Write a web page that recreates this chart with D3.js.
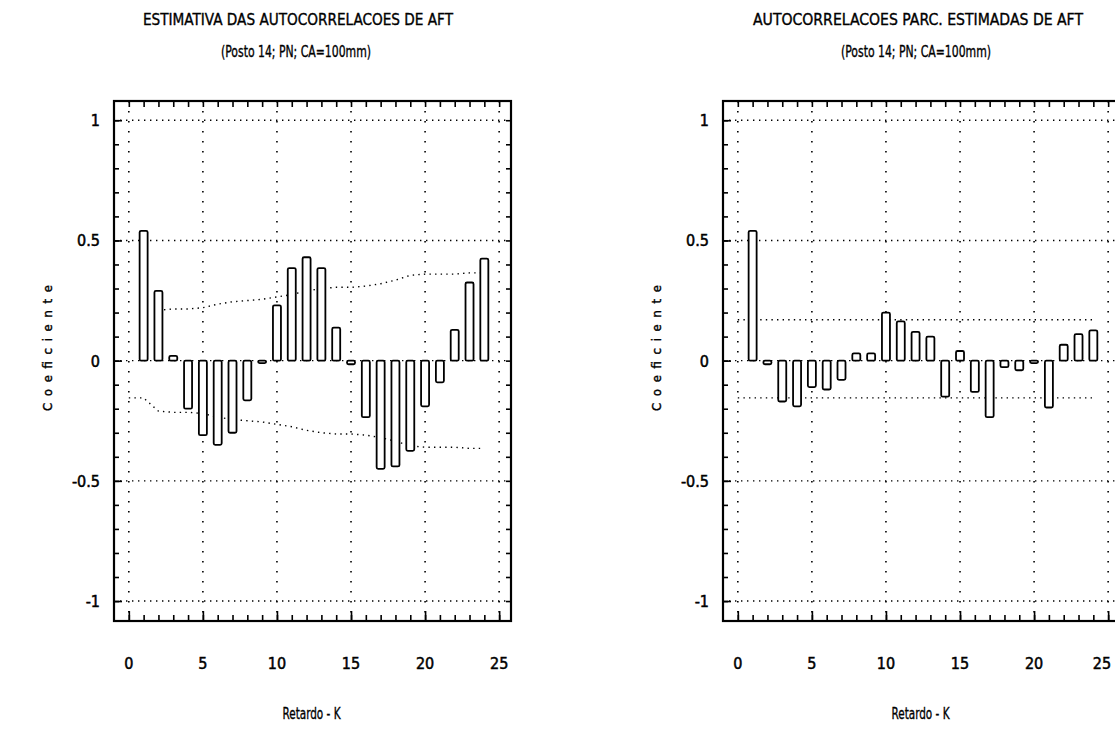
<!DOCTYPE html>
<html>
<head>
<meta charset="utf-8">
<script src="https://cdn.jsdelivr.net/npm/d3@7"></script>
<style>
    body { margin: 0; background: #fff; }
    svg text { font-family: "DejaVu Sans Condensed", "DejaVu Sans", sans-serif; font-stretch: condensed; fill: #000; }
</style>
</head>
<body>
<svg id="chart" width="1115" height="731"></svg>
<script>
/*global d3*/

// lags shown in both panels
var lags = [1, 2, 3, 4, 5, 6, 7, 8, 9, 10, 11, 12, 13, 14, 15, 16, 17, 18, 19, 20, 21, 22, 23, 24],

    // estimated autocorrelations (left panel)
    acfValues = [0.54, 0.29, 0.02, -0.20, -0.31, -0.35, -0.30, -0.165, -0.01, 0.23, 0.385, 0.43,
        0.385, 0.137, -0.015, -0.235, -0.45, -0.44, -0.375, -0.19, -0.09, 0.128, 0.325, 0.424],
    // confidence limits for the autocorrelations (+/-)
    acfBand = [0.155, 0.21, 0.215, 0.215, 0.22, 0.235, 0.245, 0.25, 0.255, 0.265, 0.275, 0.29,
        0.30, 0.305, 0.305, 0.31, 0.32, 0.335, 0.355, 0.36, 0.36, 0.36, 0.365, 0.365],

    // estimated partial autocorrelations (right panel)
    pacfValues = [0.54, -0.015, -0.17, -0.19, -0.11, -0.12, -0.08, 0.03, 0.03, 0.20, 0.163, 0.12,
        0.10, -0.15, 0.04, -0.13, -0.235, -0.027, -0.04, -0.01, -0.195, 0.066, 0.11, 0.126],
    // upper / lower limit for the partial autocorrelations
    pacfLimits = [0.17, -0.155],

    xTicks = [0, 5, 10, 15, 20, 25],
    yTicks = [1, 0.5, 0, -0.5, -1],
    yTickLabels = ['1', '0.5', '0', '-0.5', '-1'],

    titles = ['ESTIMATIVA DAS AUTOCORRELACOES DE AFT', 'AUTOCORRELACOES PARC. ESTIMADAS DE AFT'],
    subtitle = '(Posto 14; PN; CA=100mm)',
    xTitle = 'Retardo - K',
    yTitle = 'Coeficiente';

var svg = d3.select('#chart'),
    plotTop = 101,
    plotBottom = 621,
    y = d3.scaleLinear().domain([-1.083, 1.08]).range([plotBottom, plotTop]),

    /**
     * Draw one correlogram panel.
     *
     * @param {Object} opts  left/right pixel edges, title, values, band
     */
    panel = function (opts) {
        var x = d3.scaleLinear().domain([-1, 25.8]).range([opts.left, opts.right]),
            g = svg.append('g'),
            mid = (opts.left + opts.right) / 2,
            minor = d3.range(-10, 11).map(function (d) { return d / 10; });

        // dotted grid
        g.selectAll('.vgrid').data(xTicks).enter().append('line')
            .attr('x1', x).attr('x2', x)
            .attr('y1', plotTop).attr('y2', plotBottom)
            .attr('stroke', '#000').attr('stroke-width', 1.6)
            .attr('stroke-dasharray', '1.6,8.4');
        g.selectAll('.hgrid').data(yTicks).enter().append('line')
            .attr('x1', opts.left + 6).attr('x2', opts.right)
            .attr('y1', y).attr('y2', y)
            .attr('stroke', '#000').attr('stroke-width', 1.4)
            .attr('stroke-dasharray', '1.4,4.6');

        // frame ticks via d3 axes
        g.append('g').attr('transform', 'translate(0,' + plotTop + ')')
            .call(d3.axisBottom(x).tickValues(d3.range(0, 26)).tickSize(6).tickFormat(''));
        g.append('g').attr('transform', 'translate(0,' + plotBottom + ')')
            .call(d3.axisTop(x).tickValues(d3.range(0, 26)).tickSize(6).tickFormat(''));
        g.append('g').attr('transform', 'translate(0,' + plotBottom + ')')
            .call(d3.axisTop(x).tickValues(xTicks).tickSize(10).tickFormat(''));
        g.append('g').attr('transform', 'translate(' + opts.left + ',0)')
            .call(d3.axisRight(y).tickValues(minor).tickSize(5).tickFormat(''));
        g.append('g').attr('transform', 'translate(' + opts.left + ',0)')
            .call(d3.axisRight(y).tickValues(yTicks).tickSize(8).tickFormat(''));
        g.append('g').attr('transform', 'translate(' + opts.right + ',0)')
            .call(d3.axisLeft(y).tickValues(minor).tickSize(5).tickFormat(''));
        g.selectAll('.domain').remove();
        g.selectAll('.tick line').attr('stroke', '#000').attr('stroke-width', 1.6);

        g.append('rect')
            .attr('x', opts.left).attr('y', plotTop)
            .attr('width', opts.right - opts.left).attr('height', plotBottom - plotTop)
            .attr('fill', 'none').attr('stroke', '#000').attr('stroke-width', 2.2);

        // confidence limits
        opts.bands.forEach(function (b) {
            g.append('path')
                .datum(b)
                .attr('fill', 'none').attr('stroke', '#000').attr('stroke-width', 1.4)
                .attr('stroke-dasharray', '1.4,4.2')
                .attr('d', d3.line().x(function (d) { return x(d[0]); }).y(function (d) { return y(d[1]); }));
        });

        // bars
        g.selectAll('.bar').data(lags).enter().append('rect')
            .attr('x', function (d) { return x(d) - 4; })
            .attr('width', 8)
            .attr('y', function (d, i) { return y(Math.max(0, opts.values[i])); })
            .attr('height', function (d, i) { return Math.max(2, Math.abs(y(opts.values[i]) - y(0))); })
            .attr('rx', 1.5)
            .attr('fill', '#fff').attr('stroke', '#000').attr('stroke-width', 1.8);

        // labels (kept inside the 1115px page)
        g.selectAll('.xl').data(xTicks).enter().append('text')
            .attr('x', function (d) { return Math.min(x(d), 1102); }).attr('y', 669)
            .attr('text-anchor', 'middle').attr('font-size', 16)
            .attr('stroke', '#000').attr('stroke-width', 0.5)
            .text(function (d) { return d; });
        g.selectAll('.yl').data(yTicks).enter().append('text')
            .attr('x', opts.left - 14).attr('y', function (d) { return y(d) + 6; })
            .attr('text-anchor', 'end').attr('font-size', 16)
            .attr('stroke', '#000').attr('stroke-width', 0.5)
            .text(function (d, i) { return yTickLabels[i]; });

        g.append('text').attr('x', opts.titleX).attr('y', 25)
            .attr('text-anchor', 'middle').attr('font-size', 16)
            .attr('stroke', '#000').attr('stroke-width', 0.35)
            .attr('textLength', opts.titleW).attr('lengthAdjust', 'spacingAndGlyphs')
            .text(opts.title);
        g.append('text').attr('x', opts.titleX - 2).attr('y', 57)
            .attr('text-anchor', 'middle').attr('font-size', 16)
            .attr('stroke', '#000').attr('stroke-width', 0.35)
            .attr('textLength', 150).attr('lengthAdjust', 'spacingAndGlyphs')
            .text(subtitle);
        g.append('text').attr('x', mid - 1).attr('y', 719)
            .attr('text-anchor', 'middle').attr('font-size', 16)
            .attr('stroke', '#000').attr('stroke-width', 0.35)
            .attr('textLength', 58).attr('lengthAdjust', 'spacingAndGlyphs')
            .text(xTitle);
        g.append('text')
            .attr('transform', 'translate(' + (opts.left - 62) + ',348) rotate(-90)')
            .attr('text-anchor', 'middle').attr('font-size', 13)
            .attr('stroke', '#000').attr('stroke-width', 0.4)
            .attr('textLength', 126).attr('lengthAdjust', 'spacing')
            .text(yTitle);
    };

panel({
    left: 114,
    right: 511,
    title: titles[0],
    titleX: 298,
    titleW: 310,
    values: acfValues,
    bands: [
        lags.map(function (d, i) { return [d, acfBand[i]]; }).slice(1),
        [[0, -acfBand[0]]].concat(lags.map(function (d, i) { return [d, -acfBand[i]]; }))
    ]
});

panel({
    left: 723,
    right: 1120,
    title: titles[1],
    titleX: 918,
    titleW: 330,
    values: pacfValues,
    bands: pacfLimits.map(function (v) { return [[0, v], [24, v]]; })
});
</script>
</body>
</html>
